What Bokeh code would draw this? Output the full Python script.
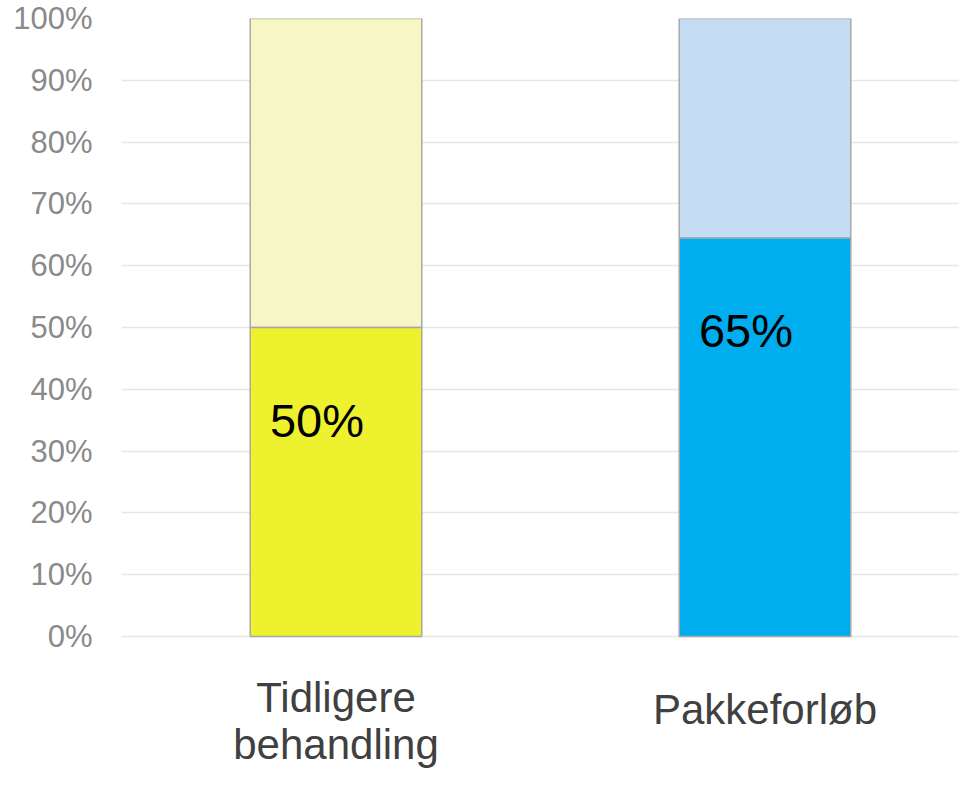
from bokeh.plotting import figure
from bokeh.models import Range1d, FixedTicker, ColumnDataSource
from bokeh.core.properties import value
from bokeh.embed import file_html
from bokeh.resources import INLINE

# ---- data ----
categories = ["Tidligere\nbehandling", "Pakkeforløb"]
share = [50, 64.5]                  # % (lower segment)
share_labels = ["50%", "65%"]
total = [100, 100]
y_ticks = [0, 10, 20, 30, 40, 50, 60, 70, 80, 90, 100]
y_tick_labels = ["0%", "10%", "20%", "30%", "40%", "50%", "60%", "70%", "80%", "90%", "100%"]

dark_colors = ["#EEF22E", "#00AEEF"]
light_colors = ["#F7F7C6", "#C5DDF3"]

xs = list(range(len(categories)))
src = ColumnDataSource(dict(
    x=xs, share=share, total=total,
    dark=dark_colors, light=light_colors,
    lab=share_labels, lab_y=[v - 15 for v in share],
    cat=categories, zero=[0] * len(xs),
    cat_off=[38, 50],
))

FONT = "Liberation Sans"
p = figure(width=959, height=775, output_backend="svg", toolbar_location=None,
           x_range=Range1d(-0.5, 1.4534), y_range=Range1d(-22.5, 100),
           min_border_top=18, min_border_left=121, min_border_right=0,
           min_border_bottom=0)
p.outline_line_color = None
p.background_fill_color = "white"
p.xaxis.visible = False
p.xgrid.visible = False

p.yaxis.ticker = FixedTicker(ticks=y_ticks)
p.yaxis.major_label_overrides = {t: l for t, l in zip(y_ticks, y_tick_labels)}
p.yaxis.axis_line_color = None
p.yaxis.major_tick_line_color = None
p.yaxis.minor_tick_line_color = None
p.yaxis.major_label_text_font = FONT
p.yaxis.major_label_text_font_size = "31px"
p.yaxis.major_label_text_color = "#8a8a8a"
p.yaxis.major_label_standoff = 23
p.ygrid.ticker = FixedTicker(ticks=y_ticks)
p.ygrid.grid_line_color = "#E6E6E6"
p.ygrid.grid_line_width = 1.5

p.vbar(x="x", width=0.4, bottom="share", top="total", source=src,
       fill_color="light", line_color="#A8A8A8", line_width=1.5)
p.vbar(x="x", width=0.4, bottom=0, top="share", source=src,
       fill_color="dark", line_color="#A8A8A8", line_width=1.5)

p.text(x="x", y="lab_y", text="lab", source=src, x_offset=-19,
       text_align="center", text_baseline="middle",
       text_font=value(FONT), text_font_size="47px", text_color="black")

p.text(x="x", y="zero", text="cat", source=src, y_offset="cat_off",
       text_align="center", text_baseline="top", text_line_height=1.0,
       text_font=value(FONT), text_font_size="42px", text_color="#404040")

open("out.html", "w").write(file_html(p, INLINE))
